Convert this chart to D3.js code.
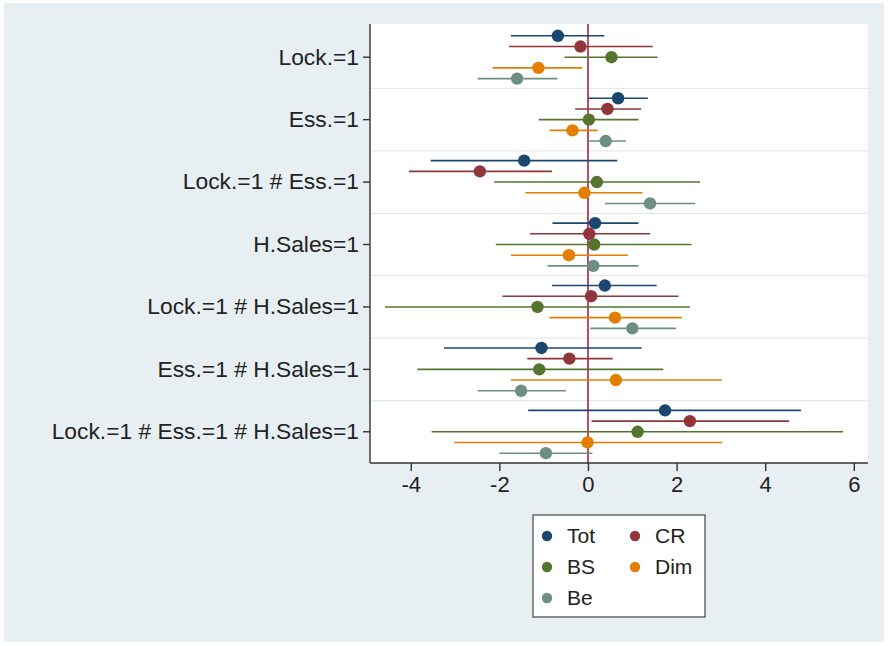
<!DOCTYPE html>
<html>
<head>
<meta charset="utf-8">
<script src="https://cdn.jsdelivr.net/npm/d3@7"></script>
<style>
  body { margin: 0; background: #fff; }
  svg { display: block; font-family: "Liberation Sans", Arial, sans-serif; }
</style>
</head>
<body>
<div id="chart"></div>
<script>
const GROUPS = ["Lock.=1", "Ess.=1", "Lock.=1 # Ess.=1", "H.Sales=1",
  "Lock.=1 # H.Sales=1", "Ess.=1 # H.Sales=1", "Lock.=1 # Ess.=1 # H.Sales=1"];
const SERIES = ["Tot", "CR", "BS", "Dim", "Be"];
const COLORS = ["#1a476f", "#90353b", "#55752f", "#e37e00", "#6e8e84"];
const X_TICKS = [-4, -2, 0, 2, 4, 6];

// point estimates, one array per series, in GROUPS order
const tot = [-0.68, 0.68, -1.44, 0.16, 0.38, -1.05, 1.74];
const cr  = [-0.17, 0.44, -2.44, 0.03, 0.07, -0.42, 2.30];
const bs  = [0.53, 0.02, 0.20, 0.14, -1.14, -1.10, 1.12];
const dim = [-1.12, -0.35, -0.08, -0.43, 0.61, 0.63, -0.01];
const be  = [-1.60, 0.40, 1.40, 0.12, 1.00, -1.51, -0.95];

// confidence intervals [low, high]
const totCI = [[-1.74, 0.37], [0.01, 1.35], [-3.55, 0.66], [-0.80, 1.14], [-0.81, 1.55], [-3.25, 1.21], [-1.35, 4.81]];
const crCI  = [[-1.78, 1.46], [-0.29, 1.20], [-4.04, -0.81], [-1.31, 1.40], [-1.93, 2.04], [-1.37, 0.56], [0.08, 4.54]];
const bsCI  = [[-0.53, 1.57], [-1.11, 1.14], [-2.12, 2.53], [-2.08, 2.34], [-4.58, 2.30], [-3.85, 1.70], [-3.53, 5.76]];
const dimCI = [[-2.15, -0.13], [-0.87, 0.22], [-1.41, 1.23], [-1.74, 0.90], [-0.87, 2.12], [-1.74, 3.02], [-3.02, 3.03]];
const beCI  = [[-2.49, -0.69], [-0.03, 0.86], [0.38, 2.42], [-0.91, 1.14], [0.05, 1.99], [-2.49, -0.50], [-2.00, 0.10]];

const POINTS = [tot, cr, bs, dim, be];
const CIS = [totCI, crCI, bsCI, dimCI, beCI];

const W = 888, H = 646;
const PLOT = { left: 370, right: 868, top: 24, bottom: 463 };

const svg = d3.select("#chart").append("svg")
  .attr("width", W).attr("height", H);

svg.append("rect")
  .attr("x", 4).attr("y", 3).attr("width", 880).attr("height", 639)
  .attr("fill", "#e8eff3");

svg.append("rect")
  .attr("x", PLOT.left).attr("y", PLOT.top)
  .attr("width", PLOT.right - PLOT.left).attr("height", PLOT.bottom - PLOT.top)
  .attr("fill", "#fff");

const x = d3.scaleLinear()
  .domain([-4.92, 6.32])
  .range([PLOT.left, PLOT.right]);

const y = d3.scaleBand()
  .domain(GROUPS)
  .range([26, PLOT.bottom])
  .paddingInner(0).paddingOuter(0);

const offset = d3.scalePoint()
  .domain(SERIES)
  .range([-21.4, 21.4]);

// separators between groups
svg.append("g").selectAll("line")
  .data(GROUPS.slice(1))
  .join("line")
  .attr("x1", PLOT.left).attr("x2", PLOT.right)
  .attr("y1", d => y(d)).attr("y2", d => y(d))
  .attr("stroke", "#e3eaee").attr("stroke-width", 1.2);

// zero line
svg.append("line")
  .attr("x1", x(0)).attr("x2", x(0))
  .attr("y1", PLOT.top).attr("y2", PLOT.bottom)
  .attr("stroke", "#a3244a").attr("stroke-width", 1.6);

// intervals and points
const rows = [];
SERIES.forEach((s, si) => {
  GROUPS.forEach((g, gi) => {
    rows.push({ s, g, color: COLORS[si], v: POINTS[si][gi], lo: CIS[si][gi][0], hi: CIS[si][gi][1] });
  });
});
const cy = d => y(d.g) + y.bandwidth() / 2 + offset(d.s);

svg.append("g").selectAll("line")
  .data(rows)
  .join("line")
  .attr("x1", d => x(d.lo)).attr("x2", d => x(d.hi))
  .attr("y1", cy).attr("y2", cy)
  .attr("stroke", d => d.color).attr("stroke-width", 1.6);

svg.append("g").selectAll("circle")
  .data(rows)
  .join("circle")
  .attr("cx", d => x(d.v)).attr("cy", cy)
  .attr("r", 6.2)
  .attr("fill", d => d.color);

// axes
const yAxis = svg.append("g")
  .attr("transform", `translate(${PLOT.left},0)`)
  .call(d3.axisLeft(y).tickSize(7).tickPadding(4).tickSizeOuter(0));
yAxis.select(".domain").attr("d", `M0,${PLOT.top}V${PLOT.bottom}`);
yAxis.selectAll(".tick text").attr("font-size", 22.8);

const xAxis = svg.append("g")
  .attr("transform", `translate(0,${PLOT.bottom})`)
  .call(d3.axisBottom(x).tickValues(X_TICKS).tickFormat(d => String(d))
    .tickSize(8).tickPadding(5).tickSizeOuter(0));
xAxis.select(".domain").attr("d", `M${PLOT.left},0H${PLOT.right}`);
xAxis.selectAll(".tick text").attr("font-size", 22);

svg.selectAll(".tick text")
  .attr("fill", "#222")
  .attr("font-family", "Liberation Sans, Arial, sans-serif");
svg.selectAll(".domain, .tick line").attr("stroke", "#333").attr("stroke-width", 1.4);

// legend
const legend = svg.append("g");
legend.append("rect")
  .attr("x", 533).attr("y", 515).attr("width", 172).attr("height", 102)
  .attr("fill", "#fff").attr("stroke", "#444").attr("stroke-width", 1.2);

const legendItems = legend.selectAll("g.item")
  .data(SERIES)
  .join("g")
  .attr("class", "item")
  .attr("transform", (d, i) => `translate(${547 + (i % 2) * 88},${536 + Math.floor(i / 2) * 31})`);
legendItems.append("circle")
  .attr("r", 5.2)
  .attr("fill", (d, i) => COLORS[i]);
legendItems.append("text")
  .attr("x", 20).attr("dy", "0.35em")
  .attr("font-size", 21).attr("fill", "#222")
  .text(d => d);
</script>
</body>
</html>
